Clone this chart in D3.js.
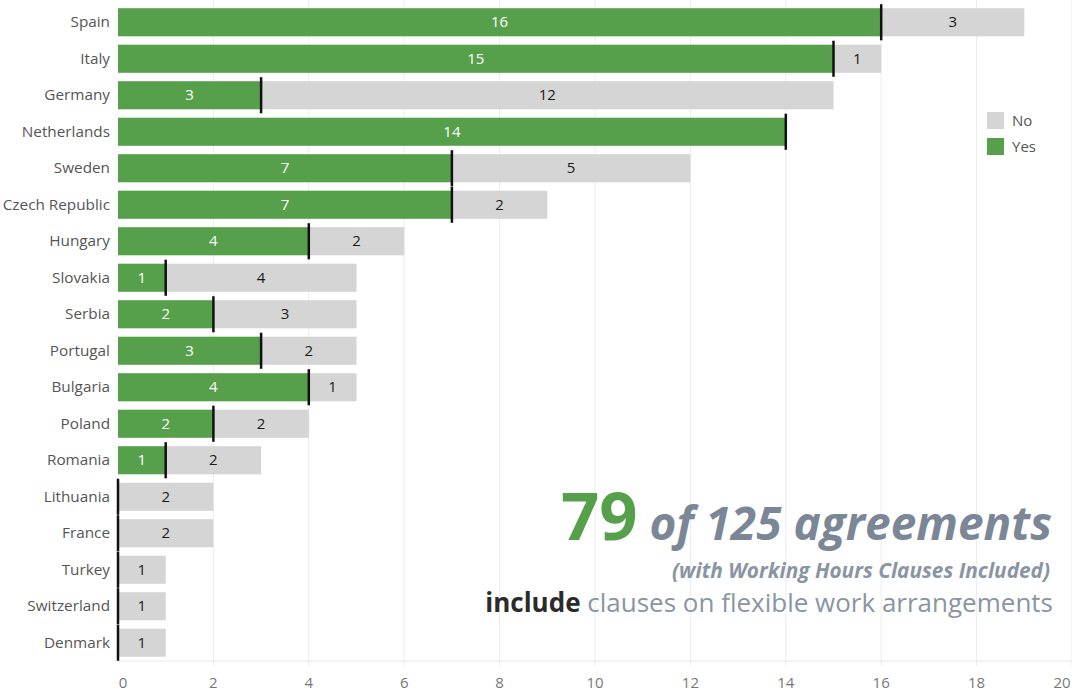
<!DOCTYPE html>
<html>
<head>
<meta charset="utf-8">
<script src="https://cdn.jsdelivr.net/npm/d3@7"></script>
<style>
  html, body { margin: 0; padding: 0; background: #fff; }
  svg { display: block; font-family: "Open Sans", "Noto Sans", sans-serif; }
</style>
</head>
<body>
<svg id="chart" width="1072" height="693"></svg>
<script>
// Agreements per country, split by whether they include flexible work clauses
const countries = ["Spain", "Italy", "Germany", "Netherlands", "Sweden", "Czech Republic",
  "Hungary", "Slovakia", "Serbia", "Portugal", "Bulgaria", "Poland", "Romania",
  "Lithuania", "France", "Turkey", "Switzerland", "Denmark"];
const yesValues = [16, 15, 3, 14, 7, 7, 4, 1, 2, 3, 4, 2, 1, 0, 0, 0, 0, 0];
const noValues  = [3, 1, 12, 0, 5, 2, 2, 4, 3, 2, 1, 2, 2, 2, 2, 1, 1, 1];
const xTicks = [0, 2, 4, 6, 8, 10, 12, 14, 16, 18, 20];
const legendItems = ["No", "Yes"];

const GREEN = "#57a04b";
const GREY = "#d5d5d5";

const svg = d3.select("#chart");
const plotLeft = 118, plotRight = 1072, plotTop = 4, plotBottom = 661;

const x = d3.scaleLinear().domain([0, 20]).range([plotLeft, plotRight]);
const y = d3.scaleBand().domain(countries).range([plotTop, plotBottom]).paddingInner(0.23).paddingOuter(0.115);

// vertical gridlines
svg.append("g").selectAll("line").data(xTicks.slice(1)).join("line")
  .attr("x1", d => x(d)).attr("x2", d => x(d))
  .attr("y1", plotTop - 4).attr("y2", plotBottom + 5)
  .attr("stroke", "#ececec").attr("stroke-width", 1);

// bottom axis line
svg.append("line").attr("x1", plotLeft).attr("x2", plotRight)
  .attr("y1", plotBottom).attr("y2", plotBottom)
  .attr("stroke", "#e8e8e8");

// tick labels
svg.append("g").selectAll("text").data(xTicks).join("text")
  .attr("x", (d, i) => x(d) + (i === 0 ? 5 : i === xTicks.length - 1 ? -10 : 0))
  .attr("y", 688)
  .attr("text-anchor", "middle")
  .attr("fill", "#777").attr("font-size", 15)
  .text(d => d);

const rows = countries.map((c, i) => ({ country: c, yes: yesValues[i], no: noValues[i] }));

// Yes segments
svg.append("g").selectAll("rect").data(rows.filter(d => d.yes > 0)).join("rect")
  .attr("x", x(0)).attr("y", d => y(d.country))
  .attr("width", d => x(d.yes) - x(0)).attr("height", y.bandwidth())
  .attr("fill", GREEN);

// No segments
svg.append("g").selectAll("rect").data(rows.filter(d => d.no > 0)).join("rect")
  .attr("x", d => x(d.yes)).attr("y", d => y(d.country))
  .attr("width", d => x(d.yes + d.no) - x(d.yes)).attr("height", y.bandwidth())
  .attr("fill", GREY);

// marker at the end of each Yes segment
svg.append("g").selectAll("line").data(rows).join("line")
  .attr("x1", d => x(d.yes)).attr("x2", d => x(d.yes))
  .attr("y1", d => y(d.country) - 4).attr("y2", d => y(d.country) + y.bandwidth() + 4)
  .attr("stroke", "#111").attr("stroke-width", 2.5);

// value labels
svg.append("g").selectAll("text").data(rows.filter(d => d.yes > 0)).join("text")
  .attr("x", d => (x(0) + x(d.yes)) / 2)
  .attr("y", d => y(d.country) + y.bandwidth() / 2 + 5)
  .attr("text-anchor", "middle").attr("fill", "#fff").attr("font-size", 15)
  .text(d => d.yes);
svg.append("g").selectAll("text").data(rows.filter(d => d.no > 0)).join("text")
  .attr("x", d => (x(d.yes) + x(d.yes + d.no)) / 2)
  .attr("y", d => y(d.country) + y.bandwidth() / 2 + 5)
  .attr("text-anchor", "middle").attr("fill", "#1a1a1a").attr("font-size", 15)
  .text(d => d.no);

// country labels
svg.append("g").selectAll("text").data(countries).join("text")
  .attr("x", plotLeft - 8)
  .attr("y", d => y(d) + y.bandwidth() / 2 + 5)
  .attr("text-anchor", "end").attr("fill", "#555").attr("font-size", 15.3)
  .text(d => d);

// legend
const legendColor = { No: GREY, Yes: GREEN };
const lg = svg.append("g").attr("transform", "translate(987,112)");
lg.append("rect").attr("x", -8).attr("y", -6).attr("width", 70).attr("height", 56).attr("fill", "#fff");
legendItems.forEach((k, i) => {
  lg.append("rect").attr("x", 0).attr("y", i * 26).attr("width", 17).attr("height", 17).attr("fill", legendColor[k]);
  lg.append("text").attr("x", 25).attr("y", i * 26 + 14).attr("font-size", 15).attr("fill", "#555").text(k);
});

// headline annotation
const ann = svg.append("g");
const t1 = ann.append("text").attr("x", 1052).attr("y", 540).attr("text-anchor", "end");
t1.append("tspan").attr("font-size", 67).attr("font-weight", 700).attr("fill", GREEN).text("79");
t1.append("tspan").attr("font-size", 46).attr("font-weight", 700).attr("font-style", "italic")
  .attr("fill", "#7b8796").text(" of 125 agreements");
ann.append("text").attr("x", 1050).attr("y", 578).attr("text-anchor", "end")
  .attr("font-size", 20.8).attr("font-weight", 700).attr("font-style", "italic").attr("fill", "#8a95a3")
  .text("(with Working Hours Clauses Included)");
const t3 = ann.append("text").attr("x", 1053).attr("y", 612).attr("text-anchor", "end").attr("font-size", 26);
t3.append("tspan").attr("font-weight", 700).attr("fill", "#2b2b2b").text("include");
t3.append("tspan").attr("fill", "#8a95a3").text(" clauses on flexible work arrangements");
</script>
</body>
</html>
